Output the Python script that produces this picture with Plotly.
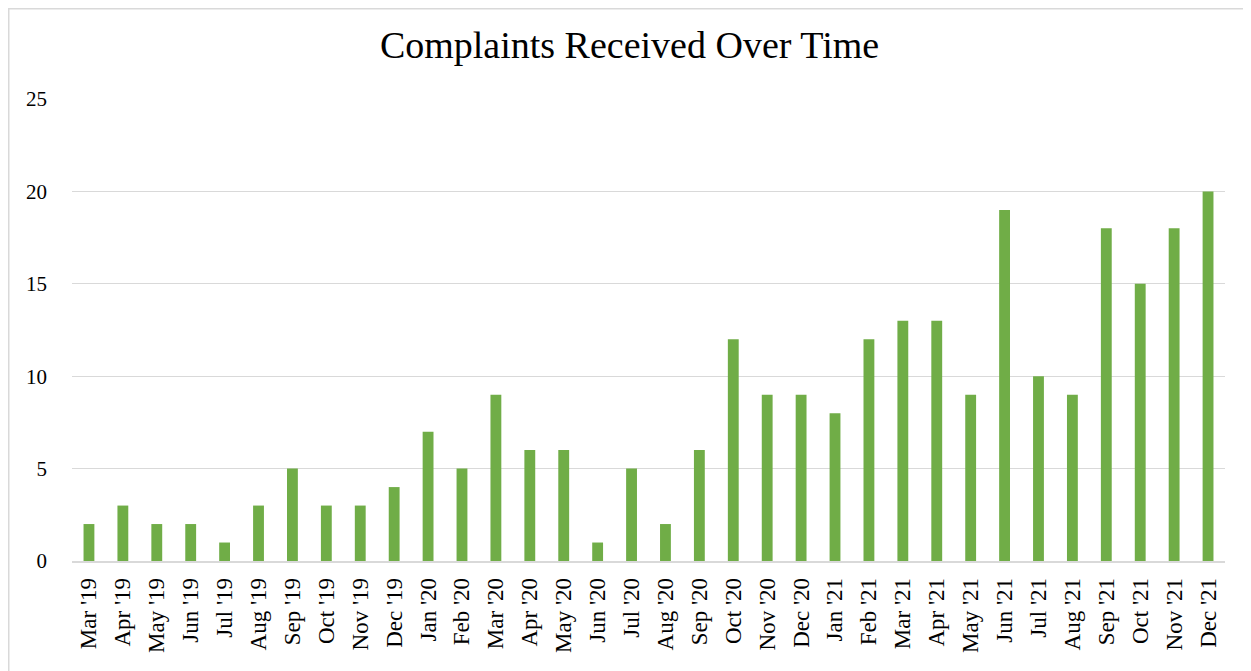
import plotly.graph_objects as go

months = ["Mar '19", "Apr '19", "May '19", "Jun '19", "Jul '19", "Aug '19", "Sep '19", "Oct '19",
          "Nov '19", "Dec '19", "Jan '20", "Feb '20", "Mar '20", "Apr '20", "May '20", "Jun '20",
          "Jul '20", "Aug '20", "Sep '20", "Oct '20", "Nov '20", "Dec '20", "Jan '21", "Feb '21",
          "Mar '21", "Apr '21", "May '21", "Jun '21", "Jul '21", "Aug '21", "Sep '21", "Oct '21",
          "Nov '21", "Dec '21"]
complaints = [2, 3, 2, 2, 1, 3, 5, 3, 3, 4, 7, 5, 9, 6, 6, 1, 5, 2, 6, 12, 9, 9, 8, 12,
              13, 13, 9, 19, 10, 9, 18, 15, 18, 20]
y_ticks = [0, 5, 10, 15, 20, 25]

# page has an 8px body margin, so the figure is slightly smaller than the window
W, H = 1243, 663
ml, mr, mt, mb = 64, 26, 91, 110
pw, ph = W - ml - mr, H - mt - mb

fig = go.Figure(go.Bar(x=months, y=complaints, marker=dict(color="#70AD47", line=dict(width=0))))

fig.update_layout(
    width=W, height=H,
    margin=dict(l=ml, r=mr, t=mt, b=mb),
    paper_bgcolor="white", plot_bgcolor="white",
    bargap=0.68,
    showlegend=False,
    title=dict(text="Complaints Received Over Time", x=0.5, xanchor="center", y=1 - 37 / H, yanchor="middle",
               font=dict(family="Liberation Serif", size=38, color="#000000")),
    font=dict(family="Liberation Serif", color="#000000"),
)
fig.update_yaxes(range=[0, 25], tickvals=y_ticks, showgrid=True, gridcolor="#d9d9d9", gridwidth=1,
                 zeroline=False, showline=False, ticks="", ticklabelstandoff=24,
                 tickfont=dict(family="Liberation Serif", size=21, color="#000000"))
fig.update_xaxes(tickangle=-90, showline=True, linecolor="#d9d9d9", linewidth=1.5, ticks="",
                 tickfont=dict(family="Liberation Serif", size=23, color="#000000"), ticklabelstandoff=6)

fig.add_shape(type="rect", xref="paper", yref="paper",
              x0=(0.75 - ml) / pw, x1=(W + 5 - ml) / pw,
              y0=(H - mb - (H + 5)) / ph, y1=(H - mb - 0.75) / ph,
              line=dict(color="#d9d9d9", width=1.5), fillcolor="rgba(0,0,0,0)", layer="below")

fig.write_html("out.html")
